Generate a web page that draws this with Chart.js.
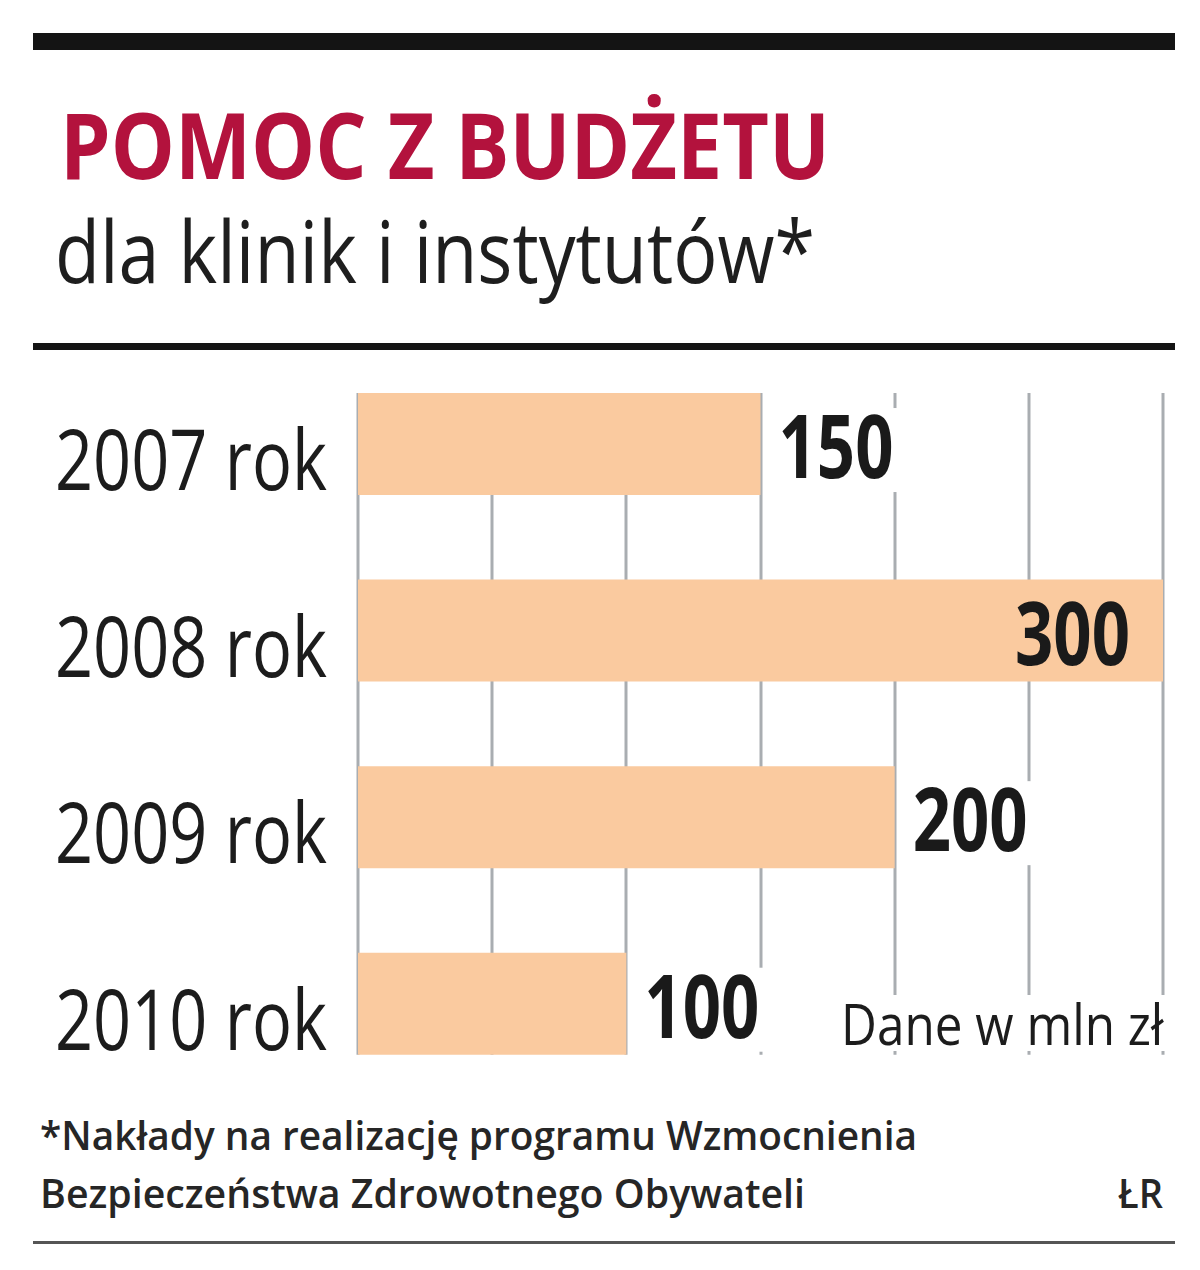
<!DOCTYPE html>
<html><head><meta charset="utf-8">
<script src="https://cdn.jsdelivr.net/npm/chart.js@4/dist/chart.umd.min.js"></script>
<style>
html,body{margin:0;padding:0;background:#fff;}
body{width:1200px;height:1270px;position:relative;overflow:hidden;font-family:"Open Sans","Noto Sans",sans-serif;color:#1c1c1c;}
.rule{position:absolute;left:33px;width:1142px;background:#141414;}
.t{position:absolute;line-height:1;white-space:nowrap;}
.l{transform-origin:0 0;}
.r{transform-origin:100% 0;}
#title{left:60px;top:99px;font-size:91px;font-weight:bold;color:#B3123D;}
#sub{left:55px;top:207px;font-size:86px;color:#1e1e1e;}
#unit{right:35px;top:995px;font-size:56px;background:#fff;padding:0 2px;z-index:3;}
#f1{left:40px;top:1115px;font-size:39px;font-weight:600;color:#262626;}
#f2{left:40px;top:1173px;font-size:39px;font-weight:600;color:#262626;}
#src{right:37px;top:1173px;font-size:39px;font-weight:600;color:#262626;}
#wrap{position:absolute;left:0;top:340px;width:1200px;height:770px;z-index:1;}
</style></head>
<body>
<div class="rule" style="top:33px;height:17px;"></div>
<div class="t l" id="title" data-w="770">POMOC Z BUDŻETU</div>
<div class="t l" id="sub" data-w="760">dla klinik i instytutów*</div>
<div class="rule" style="top:343px;height:7px;"></div>
<div id="wrap"><canvas id="c" width="1200" height="770"></canvas></div>
<div class="t r" id="unit" data-w="326">Dane w mln zł</div>
<div class="t l" id="f1" data-w="877">*Nakłady na realizację programu Wzmocnienia</div>
<div class="t l" id="f2" data-w="765">Bezpieczeństwa Zdrowotnego Obywateli</div>
<div class="t r" id="src" data-w="45">ŁR</div>
<div class="rule" style="top:1241px;height:3px;background:#555;"></div>
<script>
const categories = ["2007 rok", "2008 rok", "2009 rok", "2010 rok"];
const values = [150, 300, 200, 100];
const axisMin = 0;
const axisMax = 300;
const gridStep = 50;

const FONT = '"Open Sans", "Noto Sans", sans-serif';

function fitTexts() {
  document.querySelectorAll('[data-w]').forEach(el => {
    el.style.transform = 'none';
    const w = el.getBoundingClientRect().width;
    const target = parseFloat(el.dataset.w);
    if (w > 0) el.style.transform = 'scaleX(' + (target / w) + ')';
  });
}

const gridPlugin = {
  id: 'partialGrid',
  beforeDatasetsDraw(chart) {
    const ctx = chart.ctx;
    const xs = chart.scales.x;
    const els = chart.getDatasetMeta(0).data;
    const first = els[0].getProps(['y','height'], true);
    const last = els[els.length-1].getProps(['y','height'], true);
    const top = first.y - first.height/2;
    const bottom = last.y + last.height/2;
    ctx.save();
    ctx.strokeStyle = '#A9ADB1';
    ctx.lineWidth = 3;
    xs.ticks.forEach(t => {
      const x = Math.round(xs.getPixelForValue(t.value));
      ctx.beginPath();
      ctx.moveTo(x, top);
      ctx.lineTo(x, bottom);
      ctx.stroke();
    });
    ctx.restore();
  }
};

const catLabelPlugin = {
  id: 'catLabels',
  afterDraw(chart) {
    const ctx = chart.ctx;
    const ys = chart.scales.y;
    const size = 84;
    ctx.save();
    ctx.font = size + 'px ' + FONT;
    const f = 272 / ctx.measureText(chart.data.labels[0]).width;
    ctx.fillStyle = '#1c1c1c';
    ctx.textAlign = 'right';
    ctx.textBaseline = 'alphabetic';
    chart.data.labels.forEach((lab, i) => {
      const y = ys.getPixelForTick(i);
      ctx.save();
      ctx.translate(ys.right - 31, y + 46);
      ctx.scale(f, 1);
      ctx.fillText(lab, 0, 0);
      ctx.restore();
    });
    ctx.restore();
  }
};

const labelPlugin = {
  id: 'valueLabels',
  afterDatasetsDraw(chart) {
    const ctx = chart.ctx;
    const size = 87;
    ctx.save();
    ctx.font = 'bold ' + size + 'px ' + FONT;
    ctx.textBaseline = 'alphabetic';
    const f = 115 / ctx.measureText('150').width;
    const meta = chart.getDatasetMeta(0);
    meta.data.forEach((el, i) => {
      const p = el.getProps(['x','y'], true);
      const txt = String(chart.data.datasets[0].data[i]);
      const w = ctx.measureText(txt).width * f;
      const base = p.y + 34;
      ctx.save();
      if (p.x + 18 + w > chart.chartArea.right) {
        ctx.translate(p.x - 33, base);
        ctx.scale(f, 1);
        ctx.textAlign = 'right';
        ctx.fillStyle = '#1a1a1a';
        ctx.fillText(txt, 0, 0);
      } else {
        const lx = p.x + 18;
        ctx.fillStyle = '#fff';
        ctx.fillRect(lx - 4, base - 70, w + 8, 84);
        ctx.translate(lx, base);
        ctx.scale(f, 1);
        ctx.textAlign = 'left';
        ctx.fillStyle = '#1a1a1a';
        ctx.fillText(txt, 0, 0);
      }
      ctx.restore();
    });
    ctx.restore();
  }
};

function build() {
  fitTexts();
  new Chart(document.getElementById('c'), {
    type: 'bar',
    data: {
      labels: categories,
      datasets: [{
        data: values,
        backgroundColor: '#FACA9F',
        borderWidth: 0,
        barPercentage: 0.547,
        categoryPercentage: 1
      }]
    },
    options: {
      indexAxis: 'y',
      responsive: false,
      animation: false,
      layout: { padding: { top: 10.75, bottom: 13, left: 0, right: 37 } },
      plugins: { legend: { display: false }, tooltip: { enabled: false }, title: { display: false } },
      scales: {
        x: {
          type: 'linear', min: axisMin, max: axisMax, display: false,
          ticks: { stepSize: gridStep }
        },
        y: {
          type: 'category', offset: true,
          grid: { display: false }, border: { display: false },
          ticks: { display: false },
          afterFit(s) { s.width = 358; s.paddingTop = 0; s.paddingBottom = 0; }
        }
      }
    },
    plugins: [gridPlugin, labelPlugin, catLabelPlugin]
  });
}

Promise.all([
  document.fonts.load('84px "Open Sans"'),
  document.fonts.load('bold 87px "Open Sans"'),
  document.fonts.load('600 39px "Open Sans"')
]).catch(() => {}).then(build);
</script>
</body></html>
